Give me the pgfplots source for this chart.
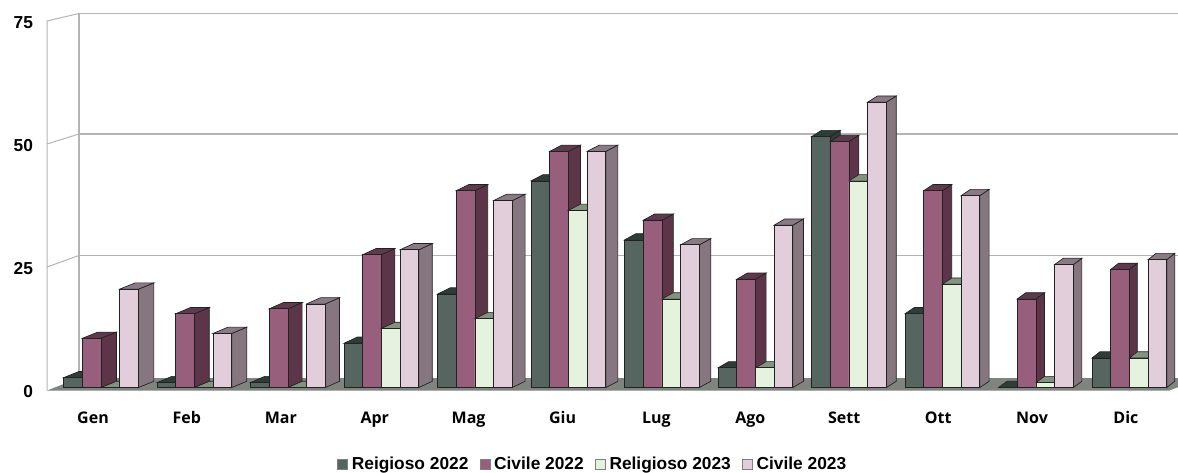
\documentclass[border=0pt]{standalone}
\usepackage{pgfplots}
\usepackage{pgfplotstable}
\usepackage{fontspec}
\pgfplotsset{compat=1.18}
\setmainfont{Liberation Sans}
\newfontfamily\xfont{Open Sans}
\definecolor{aF}{HTML}{56655F}\definecolor{aS}{HTML}{2E3B37}\definecolor{aT}{HTML}{2F3D39}
\definecolor{bF}{HTML}{985F7C}\definecolor{bS}{HTML}{5C3648}\definecolor{bT}{HTML}{5E3A4C}
\definecolor{cF}{HTML}{E4F2DE}\definecolor{cS}{HTML}{8A9487}\definecolor{cT}{HTML}{84937F}
\definecolor{dF}{HTML}{E2CDDA}\definecolor{dS}{HTML}{857680}\definecolor{dT}{HTML}{8A7A85}
\definecolor{wall}{HTML}{B4B4B4}\definecolor{floorc}{HTML}{7F8480}\definecolor{edge}{HTML}{222222}
\pgfdeclareplotmark{nothing}{}
\pgfplotstableread{
x r22 c22 r23 c23
0 2 10 0 20
1 1 15 0 11
2 1 16 0 17
3 9 27 12 28
4 19 40 14 38
5 42 48 36 48
6 30 34 18 29
7 4 22 4 33
8 51 50 42 58
9 15 40 21 39
10 0 18 1 25
11 6 24 6 26
}\datatable
\pgfplotsset{
 depth/.style n args={3}{only marks,mark=nothing,scatter,forget plot,
  visualization depends on={\thisrow{#3}\as\vv},
  visualization depends on={\thisrow{x}\as\cc},
  scatter/@pre marker code/.code={%
   \pgfmathsetmacro\hh{\vv*3.69}%
   \pgfmathsetmacro\dd{0.75*(15.6-0.7*\cc)}%
   \pgfmathsetmacro\ww{14.025+\dd}%
   \filldraw[fill=#1,draw=edge,line width=0.5pt] (14.025pt,0pt)--(\ww pt,4.7pt)--(\ww pt,{4.7-\hh*1pt})--(14.025pt,{-\hh*1pt})--cycle;
   \filldraw[fill=#2,draw=edge,line width=0.5pt] (0pt,0pt)--(14.025pt,0pt)--(\ww pt,4.7pt)--(\dd pt,4.7pt)--cycle;
  },
  scatter/@post marker code/.code={}},
 front/.style={ybar,bar width=0.2,bar shift=0pt,fill=#1,draw=edge,line width=0.6pt,
  legend image code/.code={\path[fill=#1,draw=gray,line width=0.5pt] (0pt,-3.6pt) rectangle (7.5pt,3.9pt);}},
}
\begin{document}
\begin{tikzpicture}
\path[use as bounding box,fill=white] (0,0) rectangle (883.5pt,354pt);
\begin{scope}[x=0.75pt,y=-0.75pt,yshift=354pt]
 \fill[floorc] (47,390.6)--(79,378)--(1178,378)--(1178,387.2)--(1169,390.6)--cycle;
 \draw[wall,line width=0.75pt] (47,390.6)--(47,21)--(79,13.5);
 \draw[wall,line width=0.75pt] (47,144)--(79,134);
 \draw[wall,line width=0.75pt] (47,267)--(79,255.5);
 \draw[wall,line width=1pt] (79,378)--(79,13.5);
 \draw[wall,line width=1pt] (79,13.5)--(1178,13.5);
 \draw[wall,line width=1pt] (79,134)--(1178,134);
 \draw[wall,line width=1pt] (79,255.5)--(1178,255.5);
\end{scope}
\begin{axis}[
 at={(35.25pt,61.05pt)},anchor=south west,scale only axis,
 width=841.5pt,height=279.04pt,
 xmin=-0.5,xmax=11.5,ymin=-0.62,ymax=75,clip=true,clip mode=individual,clip marker paths=false,
 axis line style={draw=none},major tick length=0pt,
 xtick={-0.008,0.996,2.001,3.005,4.009,5.014,6.018,7.022,8.026,9.031,10.035,11.039},
 xticklabels={Gen,Feb,Mar,Apr,Mag,Giu,Lug,Ago,Sett,Ott,Nov,Dic},
 ytick={0,25,50,75},yticklabels={0,25,50,75},
 /pgf/number format/assume math mode=true,
 xticklabel style={font=\xfont\bfseries\fontsize{12}{14}\selectfont,anchor=base,yshift=-24.5pt},
 yticklabel style={font=\bfseries\fontsize{13}{15}\selectfont,anchor=east,xshift=-7pt,yshift=-2.7pt},
 legend columns=4,
 legend style={draw=none,fill=none,at={(0.4868,-0.198)},anchor=center,inner sep=0pt,outer sep=0pt,
  font=\bfseries\fontsize{13}{15}\selectfont,
  /tikz/every odd column/.append style={column sep=0.8pt},
  /tikz/every even column/.append style={column sep=6.5pt}},
]
\addplot[depth={aS}{aT}{r22}] table[x expr=\thisrow{x}-0.3235,y=r22]{\datatable};
\addplot[front=aF] table[x expr=\thisrow{x}-0.2235,y=r22]{\datatable};
\addlegendentry{Reigioso 2022}
\addplot[depth={bS}{bT}{c22}] table[x expr=\thisrow{x}-0.1235,y=c22]{\datatable};
\addplot[front=bF] table[x expr=\thisrow{x}-0.0235,y=c22]{\datatable};
\addlegendentry{Civile 2022}
\addplot[depth={cS}{cT}{r23}] table[x expr=\thisrow{x}+0.0765,y=r23]{\datatable};
\addplot[front=cF] table[x expr=\thisrow{x}+0.1765,y=r23]{\datatable};
\addlegendentry{Religioso 2023}
\addplot[depth={dS}{dT}{c23}] table[x expr=\thisrow{x}+0.2765,y=c23]{\datatable};
\addplot[front=dF] table[x expr=\thisrow{x}+0.3765,y=c23]{\datatable};
\addlegendentry{Civile 2023}
\end{axis}
\end{tikzpicture}
\end{document}
